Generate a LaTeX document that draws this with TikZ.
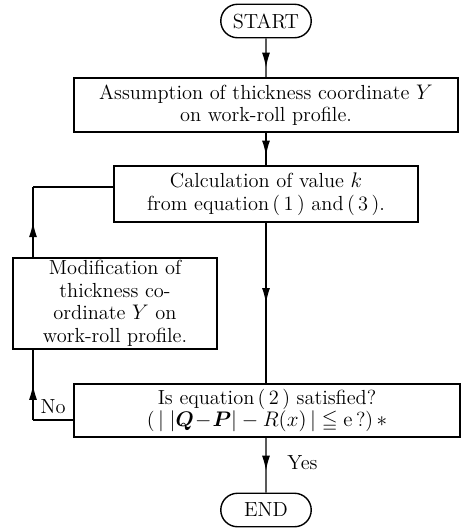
\documentclass[tikz,border=0pt]{standalone}
\usepackage{amsmath,amssymb}
\usetikzlibrary{decorations.markings,arrows.meta,shapes.misc}
\tikzset{edge/.style={decoration={markings,mark=at position #1 with {\arrow{Latex[length=3mm,width=1.6mm]}}},postaction={decorate}},edge/.default=0.5}
\tikzset{term/.style={rounded rectangle,draw,line width=.8pt,minimum width=1.88cm,minimum height=.67cm,inner sep=1pt}}
\tikzset{proc/.style={rectangle,draw,line width=.8pt,align=center,inner sep=1pt}}
\begin{document}
\begin{tikzpicture}[x=.02cm,y=-.02cm,line width=.7pt,font=\fontsize{11.6}{12.8}\selectfont]
    \useasboundingbox (0,0) rectangle (463,531);
    \node[term] (start) at (266,21) {START};
    \node[proc,minimum width=7.68cm,minimum height=1.08cm] (assume) at (266,105)
      {Assumption of thickness coordinate $Y$\\on work-roll profile.};
    \node[proc,minimum width=6.08cm,minimum height=1.12cm] (calc) at (266,194)
      {Calculation of value $k$\\from equation\,(\,1\,) and\,(\,3\,).};
    \node[proc,minimum width=4.08cm,minimum height=1.82cm] (modify) at (115,303.5)
      {Modification of\\thickness co-\\ordinate $Y$ on\\work-roll profile.};
    \node[proc,minimum width=7.72cm,minimum height=1.06cm] (check) at (267,410.5)
      {Is equation\,(\,2\,) satisfied?\\(\,$|\;|\boldsymbol{Q}\!-\!\boldsymbol{P}|-R(x)\,|\leqq\mathrm{e}$\,?)\,$\ast$};
    \node[term] (end) at (266,510) {END};
    \draw[edge=.75] (start) -- (assume);
    \draw[edge=.7] (assume) -- (calc);
    \draw[edge] (calc.south) -- (calc.south |- check.north);
    \draw[edge=.6] (check.south -| calc.south) -- node[pos=.45,right=.3cm] {Yes} (end);
    \coordinate (nobend) at (33,420);
    \coordinate (upbend) at (33,187);
    \draw (check.west |- nobend) -- node[above] {No} (nobend);
    \draw[edge] (nobend) -- (nobend |- modify.south);
    \draw[edge] (modify.north -| upbend) -- (upbend);
    \draw (upbend) -- (upbend -| calc.west);
\end{tikzpicture}
\end{document}
